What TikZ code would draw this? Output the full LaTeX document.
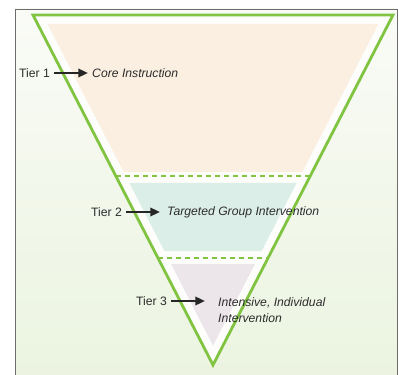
\documentclass[tikz,border=0pt]{standalone}
\usepackage{fontspec}
\setmainfont{Liberation Sans}
\usetikzlibrary{arrows.meta}
\definecolor{rtigreen}{RGB}{128,196,66}
\definecolor{tieronefill}{RGB}{250,239,224}
\definecolor{tiertwofill}{RGB}{220,238,232}
\definecolor{tierthreefill}{RGB}{236,229,234}
\definecolor{bgtop}{RGB}{250,251,247}
\definecolor{bgbottom}{RGB}{235,244,224}
\definecolor{labelgray}{RGB}{45,45,45}
\begin{document}
\begin{tikzpicture}[x=0.03cm, y=-0.03cm,
  tierlabel/.style={anchor=west, inner xsep=0pt, inner ysep=1pt, text=labelgray, font=\fontsize{10.4}{13.6}\selectfont},
  tiertext/.style={tierlabel, font=\fontsize{10.4}{13.6}\selectfont\itshape, align=left},
  tierarrow/.style={-{Triangle[length=2.9mm, width=2.5mm]}, line width=1.9pt, black!85, shorten <=1.2mm},
  tierdash/.style={rtigreen, line width=1pt, dash pattern=on 1.6mm off 1.1mm}]
\useasboundingbox (0,0) rectangle (399,375);
\clip (0,0) rectangle (399,375);
% frame with pale background
\shade[top color=bgtop, bottom color=bgbottom, middle color=bgbottom!55!bgtop] (15,9) rectangle (397,390);
\draw[gray!85!black, line width=0.8pt] (15,390) -- (15,9) -- (397,9) -- (397,390);
% inverted triangle
\fill[white!60!bgtop] (33,15) -- (393,15) -- (213,365) -- cycle;
\fill[tieronefill] (47.6,24) -- (378.4,24) -- (302.3,172) -- (123.7,172) -- cycle;
\fill[tiertwofill] (129.4,183) -- (296.6,183) -- (261.6,251) -- (164.4,251) -- cycle;
\fill[tierthreefill] (171.1,264) -- (254.9,264) -- (213,345.6) -- cycle;
\draw[tierdash] (115.8,176) -- (310.2,176);
\draw[tierdash] (158,258) -- (268,258);
\draw[rtigreen, line width=2.4pt, line join=miter] (33,15) -- (393,15) -- (213,365) -- cycle;
% tier labels
\node[tierlabel] (tier1) at (19,73) {Tier 1};
\node[tiertext] (core) at (92,73) {Core Instruction};
\node[tierlabel] (tier2) at (91,212) {Tier 2};
\node[tiertext] (targeted) at (167,212) {Targeted Group Intervention};
\node[tierlabel] (tier3) at (136,301) {Tier 3};
\node[tiertext, anchor=north west] (intensive) at (218,296) {Intensive, Individual\\Intervention};
\draw[tierarrow, shorten >=1.2mm] (tier1) -- (core);
\draw[tierarrow, shorten >=2.1mm] (tier2) -- (targeted);
\draw[tierarrow, shorten >=3.9mm] (tier3.east) -- (tier3.east -| intensive.west);
\end{tikzpicture}
\end{document}
